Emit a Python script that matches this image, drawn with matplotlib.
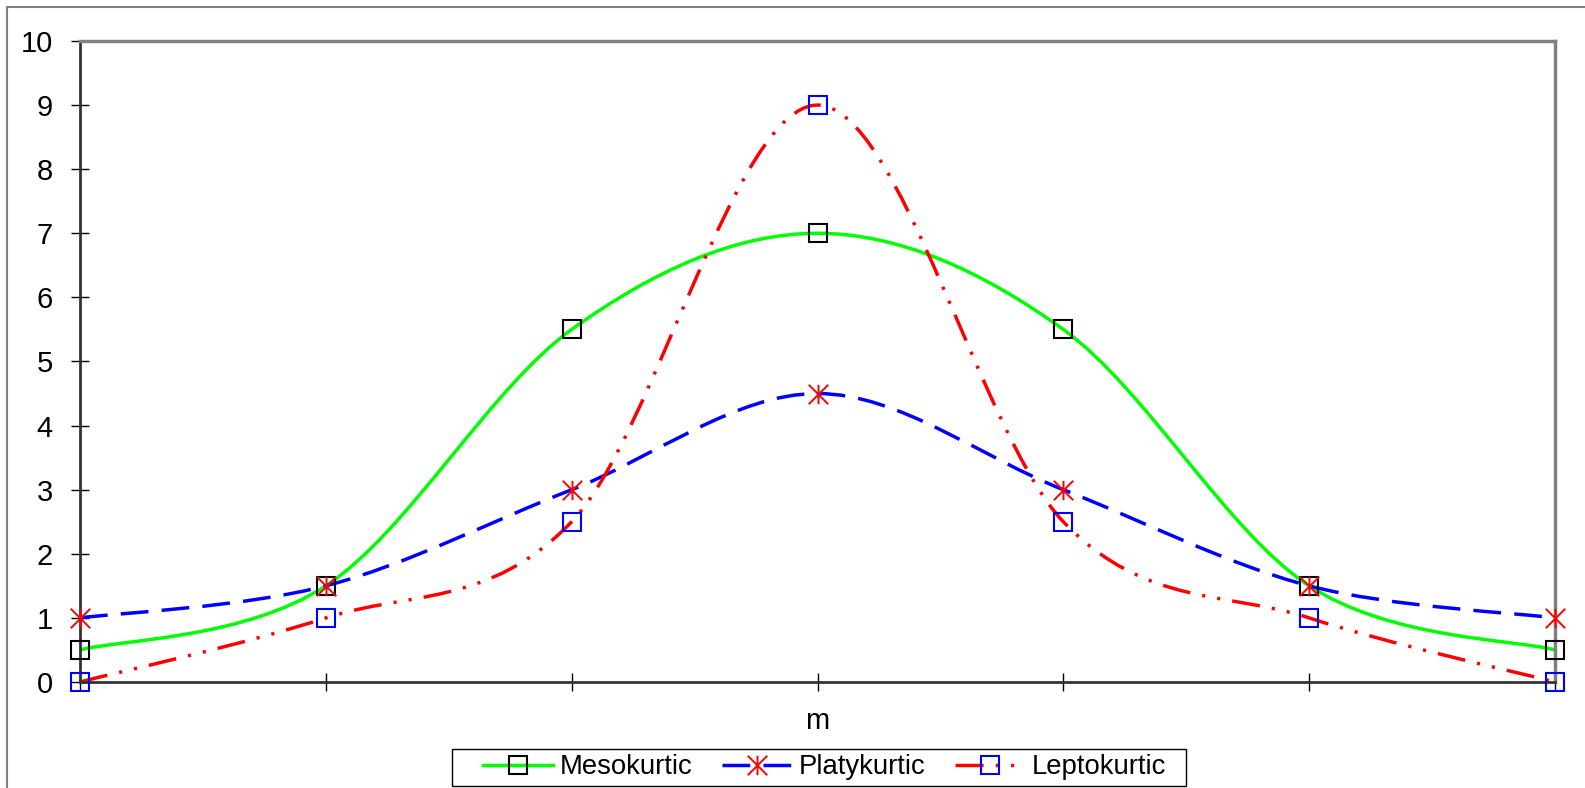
import matplotlib
matplotlib.use('Agg')
import matplotlib.pyplot as plt
from matplotlib.path import Path
from matplotlib.patches import PathPatch, Rectangle
from matplotlib.lines import Line2D

plt.rcParams['font.family'] = ['Liberation Sans', 'DejaVu Sans']

#DATA
points = [0, 1, 2, 3, 4, 5, 6]
mesokurtic = [0.5, 1.5, 5.5, 7, 5.5, 1.5, 0.5]
platykurtic = [1, 1.5, 3, 4.5, 3, 1.5, 1]
leptokurtic = [0, 1, 2.5, 9, 2.5, 1, 0]
names = ['Mesokurtic', 'Platykurtic', 'Leptokurtic']
y_ticks = list(range(0, 11))
x_label = 'm'


def smooth_path(xs, ys):
    # excel style smoothed line: cubic bezier, catmull-rom tangents
    n = len(xs)
    verts = [(xs[0], ys[0])]
    codes = [Path.MOVETO]
    for i in range(n - 1):
        a = max(i - 1, 0)
        b = min(i + 2, n - 1)
        c1 = (xs[i] + (xs[i + 1] - xs[a]) / 6., ys[i] + (ys[i + 1] - ys[a]) / 6.)
        c2 = (xs[i + 1] - (xs[b] - xs[i]) / 6., ys[i + 1] - (ys[b] - ys[i]) / 6.)
        verts += [c1, c2, (xs[i + 1], ys[i + 1])]
        codes += [Path.CURVE4] * 3
    return Path(verts, codes)


# asterisk marker like excel: X plus vertical bar
star = Path([(-1, -1), (1, 1), (-1, 1), (1, -1), (0, -1), (0, 1)],
            [Path.MOVETO, Path.LINETO] * 3)

W, H = 1585, 788
fig = plt.figure(figsize=(W / 100., H / 100.), dpi=100)
ax = fig.add_axes([80. / W, 1 - 682. / H, (1555 - 80.) / W, (682 - 41.) / H])

LW = 2.5
styles = [
    dict(color='#00FF00', ls='-'),
    dict(color='#0000FF', ls=(0, (8, 3.8))),
    dict(color='#FF0000', ls=(0, (8.1, 3.5, 0.9, 3.5, 0.9, 3.5))),
]
markers = [
    dict(marker='s', ms=12.5, mec='black', mfc='none', mew=1.5),
    dict(marker=star, ms=14, mec='#FF0000', mfc='none', mew=1.4),
    dict(marker='s', ms=12.5, mec='#0000FF', mfc='none', mew=1.5),
]

handles = []
for ys, st, mk, name in zip([mesokurtic, platykurtic, leptokurtic], styles, markers, names):
    patch = PathPatch(smooth_path(points, ys), fill=False, edgecolor=st['color'],
                      linestyle=st['ls'], lw=LW, capstyle='butt', zorder=2, clip_on=False)
    ax.add_patch(patch)
    ax.plot(points, ys, linestyle='none', zorder=4, clip_on=False, **mk)
    handles.append(Line2D([], [], color=st['color'], linestyle=st['ls'], lw=LW,
                          label=name, **mk))

ax.set_xlim(0, 6)
ax.set_ylim(0, 10)
ax.set_xticks(points)
ax.set_xticklabels([])
ax.set_yticks(y_ticks)
ax.tick_params(direction='inout', length=13, width=1, colors='black')
ax.tick_params(axis='y', labelsize=21, pad=13)
ax.set_xlabel(x_label, fontsize=21, labelpad=8)

for s in ['left', 'bottom']:
    ax.spines[s].set_color('#333333')
    ax.spines[s].set_linewidth(2)
for s in ['top', 'right']:
    ax.spines[s].set_color('#808080')
    ax.spines[s].set_linewidth(2.5)

# outer chart border
fig.add_artist(Rectangle((7. / W, -0.1), 2, 1.1 - 7. / H, transform=fig.transFigure,
                         fill=False, ec='#808080', lw=1.5))

# legend (frame drawn separately, excel pads it unevenly)
leg = fig.legend(handles=handles, loc='center', bbox_to_anchor=(824.5 / W, 1 - 767.5 / H),
                 ncol=3, fontsize=19.8, frameon=False, borderpad=0, handlelength=2.55,
                 handletextpad=0.22, columnspacing=1.09, borderaxespad=0)
fig.add_artist(Rectangle((452. / W, 1 - 786. / H), 734. / W, 37. / H,
                         transform=fig.transFigure, fill=False, ec='black', lw=1))

plt.savefig('out.png', dpi=100)
